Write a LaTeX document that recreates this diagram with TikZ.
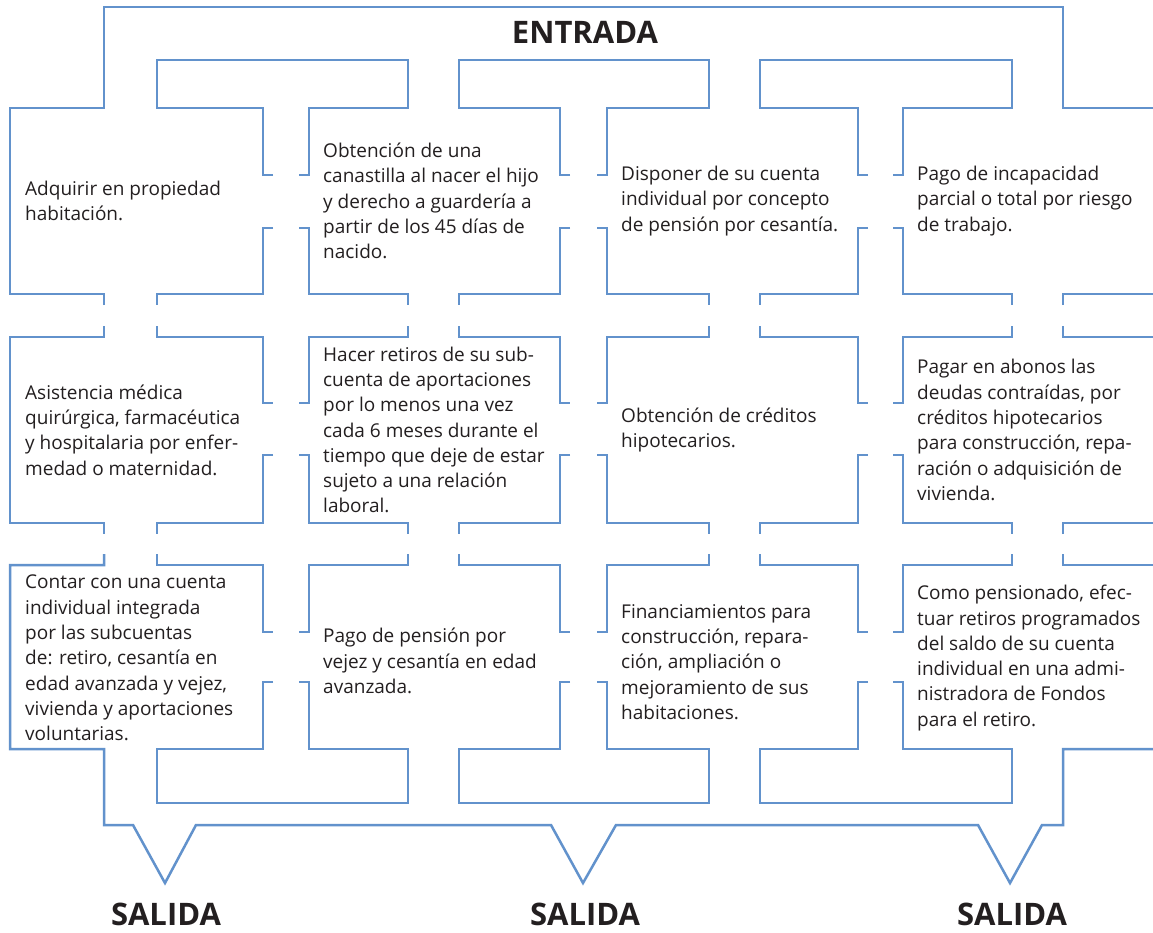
\documentclass[tikz,border=0pt]{standalone}
\usepackage{fontspec}
\setmainfont{Open Sans}
\usepackage{tikz}
\definecolor{mazeblue}{RGB}{98,146,204}
\definecolor{inkcolor}{RGB}{35,31,32}

\begin{document}
\begin{tikzpicture}[x=1pt, y=-1pt,
    wall/.style={mazeblue, line width=2.5pt},
    roomtext/.style={inkcolor, anchor=west, align=left, inner sep=0pt,
                     font=\fontsize{19}{25.3}\selectfont},
    signtext/.style={inkcolor, anchor=base, inner sep=0pt,
                     font=\bfseries\fontsize{31}{31}\selectfont}]
    \useasboundingbox[fill=white] (0,0) rectangle (1153,932);
    % --- outer top: entrance band ---
    \draw[wall] (104,305) -- (104,294) -- (10,294) -- (10,108) -- (104,108)
      -- (104,7) -- (1063,7) -- (1063,108) -- (1153,108);
    % --- upper T bars between the corridors ---
    \foreach \R/\b/\a/\L in {263/157/408/309, 560/459/709/607, 858/760/1012/903}
      \draw[wall] (\R+10,175) -- (\R,175) -- (\R,108) -- (\b,108) -- (\b,60)
        -- (\a,60) -- (\a,108) -- (\L,108) -- (\L,175) -- (\L-10,175);
    % --- upper halves of rows 2 and 3 ---
    \foreach \T/\D in {337/403, 565/632} {
      \foreach \R/\b/\a/\L in {263/157/408/309, 560/459/709/607, 858/760/1012/903} {
        \draw[wall] (\b,\T-11) -- (\b,\T) -- (\R,\T) -- (\R,\D) -- (\R+10,\D);
        \draw[wall] (\a,\T-11) -- (\a,\T) -- (\L,\T) -- (\L,\D) -- (\L-10,\D);
      }
      \draw[wall] (1063,\T-11) -- (1063,\T) -- (1153,\T);
    }
    % --- lower halves of rows 1 and 2 ---
    \foreach \B/\D in {294/228, 523/455} {
      \foreach \R/\b/\a/\L in {263/157/408/309, 560/459/709/607, 858/760/1012/903} {
        \draw[wall] (\R+10,\D) -- (\R,\D) -- (\R,\B) -- (\b,\B) -- (\b,\B+11);
        \draw[wall] (\L-10,\D) -- (\L,\D) -- (\L,\B) -- (\a,\B) -- (\a,\B+11);
      }
      \draw[wall] (1063,\B+11) -- (1063,\B) -- (1153,\B);
    }
    % --- left wall of row 2 ---
    \draw[wall] (104,326) -- (104,337) -- (10,337) -- (10,523) -- (104,523) -- (104,534);
    % --- lower T bars ---
    \foreach \R/\b/\a/\L in {263/157/408/309, 560/459/709/607, 858/760/1012/903}
      \draw[wall] (\R+10,682) -- (\R,682) -- (\R,749) -- (\b,749) -- (\b,803)
        -- (\a,803) -- (\a,749) -- (\L,749) -- (\L,682) -- (\L-10,682);
    % --- outer bottom with the three exits ---
    \draw[wall] (104,554) -- (104,565) -- (10,565) -- (10,749) -- (104,749)
      -- (104,825) -- (133,825) -- (165,883) -- (196,825) -- (551,825)
      -- (583,883) -- (616,825) -- (978,825) -- (1010,883) -- (1042,825)
      -- (1063,825) -- (1063,749) -- (1153,749);
    % --- signs ---
    \node[signtext] (entrada) at (585,43) {ENTRADA};
    \node[signtext] (salidaA) at (166,925) {SALIDA};
    \node[signtext] (salidaB) at (585,925) {SALIDA};
    \node[signtext] (salidaC) at (1012,925) {SALIDA};
    % --- row 1 ---
    \node[roomtext] (propiedad) at (25,201) {Adquirir en propiedad\\habitación.};
    \node[roomtext] (canastilla) at (323,201) {Obtención de una\\canastilla al nacer el hijo\\y derecho a guardería a\\partir de los 45 días de\\nacido.};
    \node[roomtext] (cesantia) at (621,201) {Disponer de su cuenta\\individual por concepto\\de pensión por cesantía.};
    \node[roomtext] (incapacidad) at (917,201) {Pago de incapacidad\\parcial o total por riesgo\\de trabajo.};
    % --- row 2 ---
    \node[roomtext] (asistencia) at (25,430) {Asistencia médica\\quirúrgica, farmacéutica\\y hospitalaria por enfer-\\medad o maternidad.};
    \node[roomtext] (retiros) at (323,430) {Hacer retiros de su sub-\\cuenta de aportaciones\\por lo menos una vez\\cada 6 meses durante el\\tiempo que deje de estar\\sujeto a una relación\\laboral.};
    \node[roomtext] (creditos) at (621,430) {Obtención de créditos\\hipotecarios.};
    \node[roomtext] (abonos) at (917,430) {Pagar en abonos las\\deudas contraídas, por\\créditos hipotecarios\\para construcción, repa-\\ración o adquisición de\\vivienda.};
    % --- row 3 ---
    \node[roomtext] (subcuentas) at (25,658) {Contar con una cuenta\\individual integrada\\por las subcuentas\\de: retiro, cesantía en\\edad avanzada y vejez,\\vivienda y aportaciones\\voluntarias.};
    \node[roomtext] (pension) at (323,661) {Pago de pensión por\\vejez y cesantía en edad\\avanzada.};
    \node[roomtext] (financiamiento) at (621,662) {Financiamientos para\\construcción, repara-\\ción, ampliación o\\mejoramiento de sus\\habitaciones.};
    \node[roomtext] (pensionado) at (917,658) {Como pensionado, efec-\\tuar retiros programados\\del saldo de su cuenta\\individual en una admi-\\nistradora de Fondos\\para el retiro.};
\end{tikzpicture}
\end{document}
